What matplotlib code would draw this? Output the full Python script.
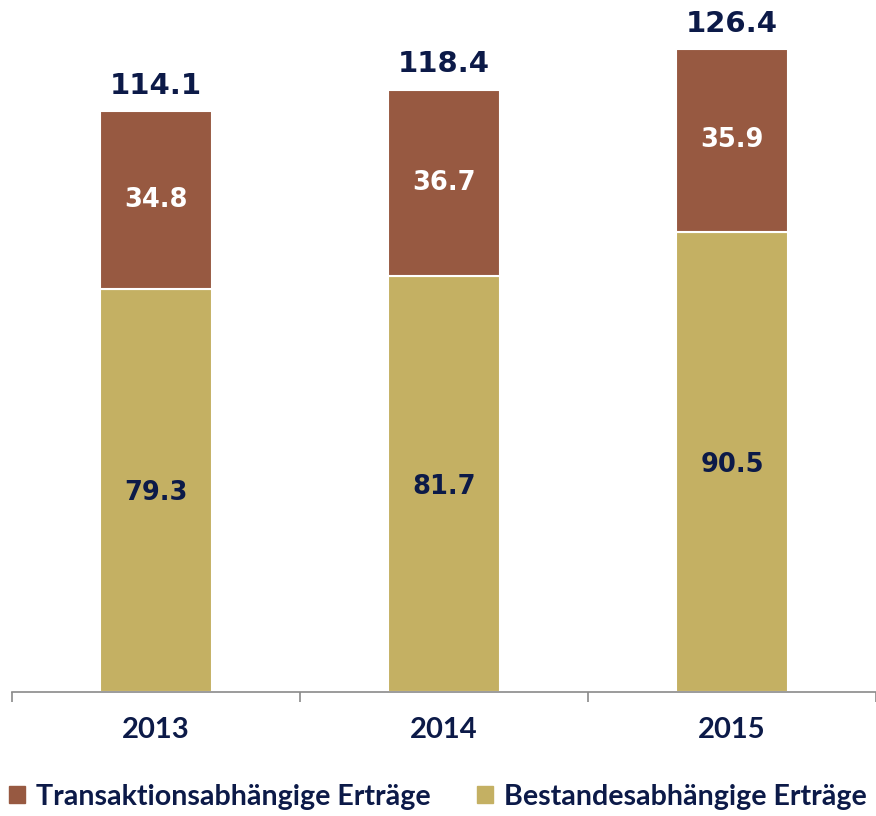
import matplotlib
matplotlib.use('Agg')
import matplotlib.pyplot as plt
from matplotlib.patches import Patch

years = ['2013', '2014', '2015']
bestand = [79.3, 81.7, 90.5]
transaktion = [34.8, 36.7, 35.9]
totals = [114.1, 118.4, 126.4]

navy = '#0c1a48'
brown = '#975941'
gold = '#c4b063'

fig = plt.figure(figsize=(8.76, 8.16), dpi=100)
ax = fig.add_axes([12/876, 124/816, 864/876, 692/816])

x = range(len(years))
ax.bar(x, bestand, width=0.39, color=gold, edgecolor='white', linewidth=1.5)
ax.bar(x, transaktion, width=0.39, bottom=bestand, color=brown, edgecolor='white', linewidth=1.5)

for i in x:
    ax.text(i, bestand[i] / 2 - 0.6, f'{bestand[i]:.1f}', ha='center', va='center',
            color=navy, fontsize=18.5, fontweight='bold', family='DejaVu Sans')
    ax.text(i, bestand[i] + transaktion[i] / 2, f'{transaktion[i]:.1f}', ha='center', va='center',
            color='white', fontsize=18.5, fontweight='bold', family='DejaVu Sans')
    ax.text(i, totals[i] + 2.2, f'{totals[i]:.1f}', ha='center', va='bottom',
            color=navy, fontsize=21, fontweight='bold', family='DejaVu Sans')

ax.set_xlim(-0.5, 2.5)
ax.set_ylim(0, 136)
for s in ['top', 'right', 'left']:
    ax.spines[s].set_visible(False)
ax.spines['bottom'].set_color('#8a8a8a')
ax.spines['bottom'].set_linewidth(1.2)
ax.set_yticks([])
ax.set_xticks([-0.5, 0.5, 1.5, 2.5])
ax.set_xticklabels([])
ax.tick_params(axis='x', length=7, color='#8a8a8a', width=1.2)
ax.set_xticks(list(x), minor=True)
ax.set_xticklabels(years, minor=True, fontsize=21, fontweight='bold', color=navy, family='Lato')
ax.tick_params(axis='x', which='minor', length=0, pad=18)

handles = [Patch(color=brown, label='Transaktionsabhängige Erträge'),
           Patch(color=gold, label='Bestandesabhängige Erträge')]
leg = fig.legend(handles=handles, loc='lower center', bbox_to_anchor=(0.5, -0.024), ncol=2,
                 frameon=False, handlelength=0.55, handleheight=0.55, handletextpad=0.4,
                 columnspacing=1.6, prop={'family': 'Lato', 'weight': 'bold', 'size': 20.6})
for t in leg.get_texts():
    t.set_color(navy)

fig.savefig('out.png', dpi=100)
